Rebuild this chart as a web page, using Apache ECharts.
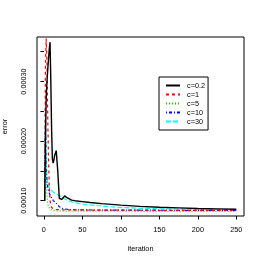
<!DOCTYPE html>
<html>
<head>
<meta charset="utf-8">
<script src="https://cdn.jsdelivr.net/npm/echarts@6/dist/echarts.min.js"></script>
<style>html,body{margin:0;padding:0;background:#fff}#c{width:263px;height:263px}</style>
</head>
<body>
<div id="c"></div>
<script>
var iterations = [1,2,3,4,5,6,7,8,9,10,11,12,13,14,16,18,20,23,27,30,36,40,50,60,75,100,125,150,175,200,225,250];
var c02 = [1.00e-4,2.00e-4,2.75e-4,3.00e-4,3.20e-4,3.38e-4,3.55e-4,3.66e-4,3.00e-4,2.20e-4,1.70e-4,1.63e-4,1.68e-4,1.76e-4,1.84e-4,1.50e-4,1.04e-4,1.02e-4,1.08e-4,1.05e-4,1.01e-4,1.00e-4,0.985e-4,0.97e-4,0.95e-4,0.925e-4,0.905e-4,0.89e-4,0.88e-4,0.87e-4,0.863e-4,0.857e-4];
var c1 = [1.00e-4,3.30e-4,3.72e-4,3.30e-4,2.40e-4,1.70e-4,1.25e-4,1.00e-4,0.92e-4,0.885e-4,0.872e-4,0.865e-4,0.86e-4,0.857e-4,0.853e-4,0.851e-4,0.849e-4,0.848e-4,0.847e-4,0.846e-4,0.845e-4,0.845e-4,0.844e-4,0.843e-4,0.842e-4,0.841e-4,0.840e-4,0.839e-4,0.838e-4,0.838e-4,0.837e-4,0.837e-4];
var c5 = [1.00e-4,2.15e-4,1.45e-4,1.10e-4,0.96e-4,0.90e-4,0.87e-4,0.855e-4,0.846e-4,0.84e-4,0.837e-4,0.835e-4,0.833e-4,0.832e-4,0.830e-4,0.829e-4,0.828e-4,0.827e-4,0.826e-4,0.826e-4,0.825e-4,0.825e-4,0.824e-4,0.824e-4,0.823e-4,0.823e-4,0.822e-4,0.822e-4,0.822e-4,0.821e-4,0.821e-4,0.821e-4];
var c10 = [1.00e-4,2.30e-4,1.55e-4,1.30e-4,1.22e-4,1.17e-4,1.13e-4,1.095e-4,1.07e-4,1.045e-4,1.025e-4,1.005e-4,0.99e-4,0.98e-4,0.955e-4,0.925e-4,0.90e-4,0.875e-4,0.862e-4,0.856e-4,0.85e-4,0.848e-4,0.845e-4,0.844e-4,0.843e-4,0.842e-4,0.841e-4,0.840e-4,0.839e-4,0.838e-4,0.837e-4,0.836e-4];
var c30 = [1.00e-4,2.55e-4,1.70e-4,1.42e-4,1.32e-4,1.26e-4,1.22e-4,1.20e-4,1.18e-4,1.165e-4,1.155e-4,1.145e-4,1.135e-4,1.125e-4,1.11e-4,1.10e-4,1.09e-4,1.06e-4,1.03e-4,1.01e-4,0.98e-4,0.965e-4,0.945e-4,0.93e-4,0.91e-4,0.885e-4,0.872e-4,0.865e-4,0.86e-4,0.855e-4,0.852e-4,0.85e-4];
var seriesNames = ['c=0.2','c=1','c=5','c=10','c=30'];
var xTicks = [0,50,100,150,200,250];
var yTicks = [0.0001,0.00015,0.0002,0.00025,0.0003,0.00035];
var yLabels = [0.0001,0.0002,0.0003];

var FONT = 'Liberation Sans, Arial, sans-serif';
var FS = 7.3;
function pairs(ys){ return iterations.map(function(x,i){ return [x, ys[i]]; }); }
var styles = [
  {color:'#000000', type:'solid', width:1.4},
  {color:'#FF0000', type:[3,3], width:1.2},
  {color:'#00CD00', type:[1,2], width:1.2},
  {color:'#0000FF', type:[1,2,3,2], width:1.2},
  {color:'#00FFFF', type:[5,2], width:1.2}
];
var allData = [c02,c1,c5,c10,c30];
var series = allData.map(function(d,i){
  return {
    name: seriesNames[i], type:'line', data: pairs(d), showSymbol:false, symbol:'none',
    lineStyle:{color:styles[i].color, type:styles[i].type, width:styles[i].width},
    itemStyle:{color:styles[i].color}, z: 10 - i, animation:false
  };
});
var chart = echarts.init(document.getElementById('c'), null, {renderer:'canvas'});
chart.setOption({
  animation:false,
  backgroundColor:'#ffffff',
  grid:{left:37, top:37, width:207, height:179, show:true, borderColor:'#000', borderWidth:1, backgroundColor:'transparent', outerBoundsMode:'none', containLabel:false},
  xAxis:{
    type:'value', min:-8.96, max:259.96,
    name:'iteration', nameLocation:'middle', nameGap:29,
    nameTextStyle:{fontFamily:FONT, fontSize:FS, color:'#000'},
    axisLine:{show:false},
    axisTick:{show:true, length:3.5, lineStyle:{color:'#000', width:1}, customValues:xTicks},
    axisLabel:{fontFamily:FONT, fontSize:FS, color:'#000', margin:10.5, customValues:xTicks},
    splitLine:{show:false}
  },
  yAxis:{
    type:'value', min:0.0000743, max:0.0003747,
    name:'error', nameLocation:'middle', nameGap:29,
    nameTextStyle:{fontFamily:FONT, fontSize:FS, color:'#000'},
    axisLine:{show:false},
    axisTick:{show:true, length:3.5, lineStyle:{color:'#000', width:1}, customValues:yTicks},
    axisLabel:{fontFamily:FONT, fontSize:FS, color:'#000', margin:10, rotate:90, customValues:yLabels,
      formatter:function(v){ return v.toFixed(5); }},
    splitLine:{show:false}
  },
  legend:{
    show:true, orient:'vertical', left:159, top:77,
    data: seriesNames,
    borderColor:'#000', borderWidth:1, borderRadius:0,
    padding:[4,3,4,6],
    itemWidth:14, itemHeight:9, itemGap:0,
    itemStyle:{opacity:0},
    textStyle:{fontFamily:FONT, fontSize:FS, color:'#000', lineHeight:9, padding:[0,0,0,2]}
  },
  series: series
});
</script>
</body>
</html>
